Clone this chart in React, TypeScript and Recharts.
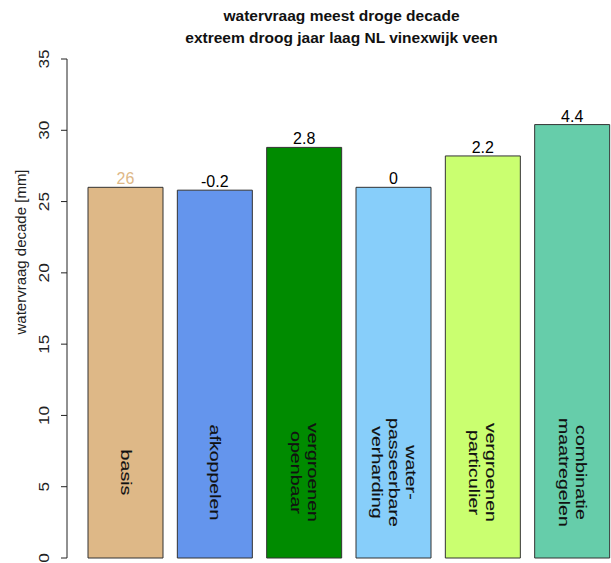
import React from "react";
import { BarChart, Bar, XAxis, YAxis, Cell, LabelList, Label } from "recharts";

const categories = [
  "basis",
  "afkoppelen",
  "vergroenen\nopenbaar",
  "water-\npasseerbare\nverharding",
  "vergroenen\nparticulier",
  "combinatie\nmaatregelen",
];
const values = [26, 25.8, 28.8, 26, 28.2, 30.4];
const diffLabels = ["26", "-0.2", "2.8", "0", "2.2", "4.4"];
const colors = ["#DEB887", "#6495ED", "#008B00", "#87CEFA", "#CAFF70", "#66CDAA"];
const labelColors = ["#DEB887", "#000", "#000", "#000", "#000", "#000"];
const yTicks = [0, 5, 10, 15, 20, 25, 30, 35];
const namePosValue = 6;
const titleLines = ["watervraag meest droge decade", "extreem droog jaar laag NL vinexwijk veen"];
const yTitle = "watervraag decade [mm]";

const data = categories.map((name, i) => ({ name, value: values[i], idx: i }));

const FONT = "'Liberation Sans', Arial, sans-serif";

const YTick = (props: any) => {
  const { y, payload } = props;
  return (
    <text
      transform={`translate(43, ${y}) rotate(-90) scale(1.15, 1)`}
      textAnchor="middle"
      dominantBaseline="central"
      fontFamily={FONT}
      fontSize={15}
      fill="#222"
    >
      {payload.value}
    </text>
  );
};

const TopLabel = (props: any) => {
  const { x, y, width, index } = props;
  return (
    <text
      x={x + width / 2}
      y={y - 3}
      textAnchor="middle"
      fontFamily={FONT}
      fontSize={16}
      fill={labelColors[index]}
    >
      {diffLabels[index]}
    </text>
  );
};

const NameLabel = (props: any) => {
  const { x, y, width, height, index, value } = props;
  const cx = x + width / 2;
  const cy = y + height - (height * namePosValue) / value;
  const lines = categories[index].split("\n");
  const L = 17;
  return (
    <text
      transform={`translate(${cx}, ${cy}) rotate(90) scale(1.4, 1)`}
      textAnchor="middle"
      dominantBaseline="central"
      fontFamily={FONT}
      fontSize={14}
      fill="#111"
      stroke="#111"
      strokeWidth={0.12}
    >
      {lines.map((ln, i) => (
        <tspan key={i} x={0} y={(i - (lines.length - 1) / 2) * L}>
          {ln}
        </tspan>
      ))}
    </text>
  );
};

const YTitle = () => (
  <text
    transform="translate(20, 252) rotate(-90)"
    textAnchor="middle"
    dominantBaseline="central"
    fontFamily={FONT}
    fontSize={15}
    fill="#222"
  >
    {yTitle}
  </text>
);

export default function App() {
  return (
    <div
      style={{
        position: "absolute",
        left: 0,
        top: 0,
        width: 611,
        height: 563,
        overflow: "hidden",
        background: "#fff",
      }}
    >
      <div
        style={{
          position: "absolute",
          left: 0,
          top: 0,
          width: 683,
          textAlign: "center",
          fontFamily: FONT,
          fontWeight: "bold",
          fontSize: 15.5,
          lineHeight: "22px",
          paddingTop: 5,
          color: "#111",
        }}
      >
        {titleLines.map((t, i) => (
          <div key={i}>{t}</div>
        ))}
      </div>
      <BarChart
        width={617}
        height={563}
        data={data}
        margin={{ top: 59, right: 0, bottom: 5, left: 0 }}
        style={{ position: "absolute", left: 0, top: 0 }}
      >
        <XAxis dataKey="name" hide padding={{ left: 14, right: 0 }} />
        <YAxis
          width={67}
          domain={[0, 35]}
          ticks={yTicks}
          interval={0}
          tickSize={6}
          axisLine={{ stroke: "#222" }}
          tickLine={{ stroke: "#222" }}
          tick={<YTick />}
        >
          <Label content={<YTitle />} />
        </YAxis>
        <Bar dataKey="value" barSize={75} stroke="#333" strokeWidth={1} isAnimationActive={false}>
          {data.map((d, i) => (
            <Cell key={i} fill={colors[i]} />
          ))}
          <LabelList dataKey="value" content={<TopLabel />} />
          <LabelList dataKey="value" content={<NameLabel />} />
        </Bar>
      </BarChart>
    </div>
  );
}
